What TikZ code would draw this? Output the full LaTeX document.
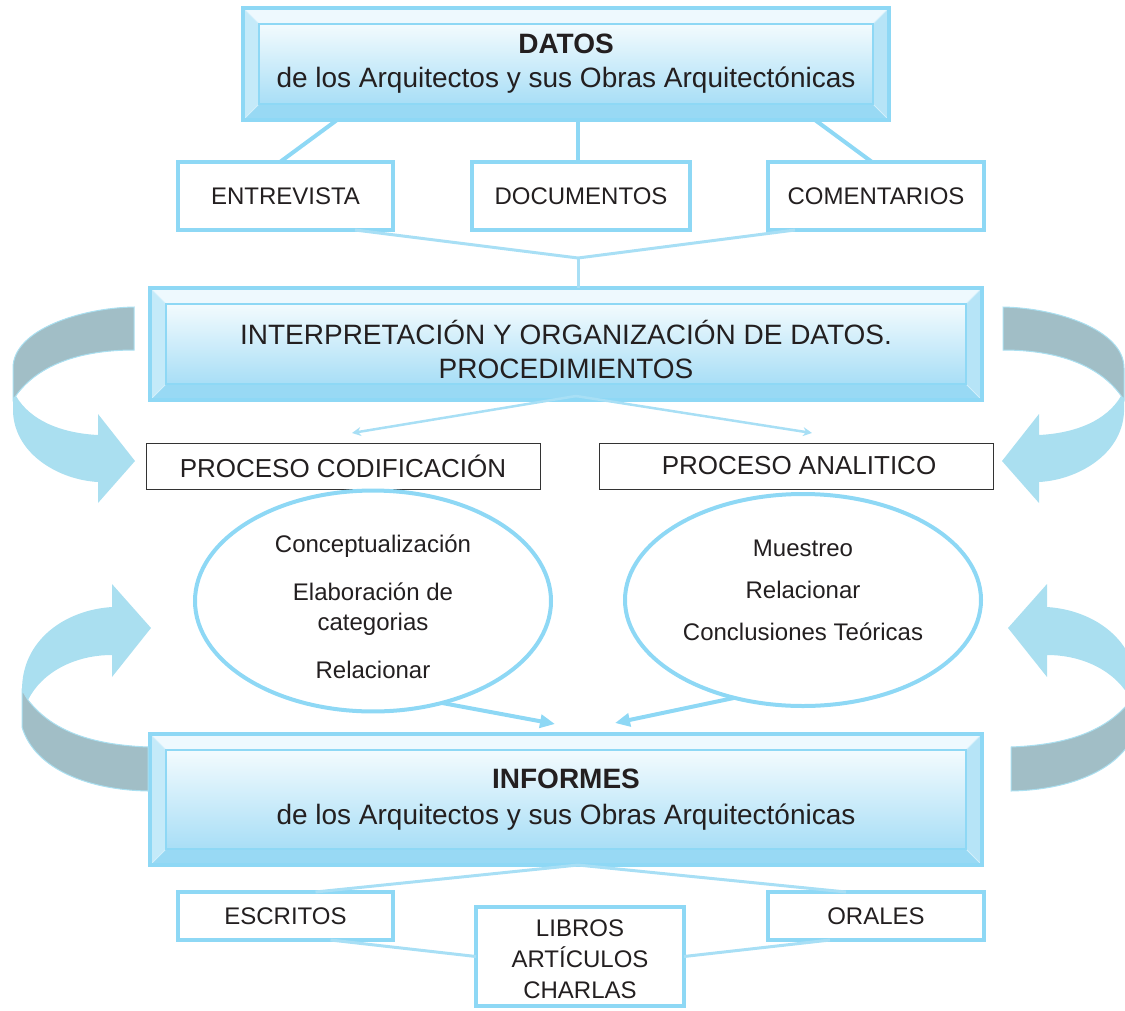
\documentclass[tikz,border=0pt]{standalone}
\usepackage{fontspec}
\setmainfont{Liberation Sans}
\usetikzlibrary{calc,arrows.meta,shapes.geometric,backgrounds}
\definecolor{bb}{HTML}{8ED8F5}
\definecolor{cl}{HTML}{A8DFF5}
\definecolor{topf}{HTML}{EEF9FE}
\definecolor{leftf}{HTML}{C4EAF9}
\definecolor{rightf}{HTML}{B6E4F7}
\definecolor{botf}{HTML}{98D9F4}
\definecolor{innt}{HTML}{F3FBFE}
\definecolor{innb}{HTML}{A8DEF6}
\definecolor{rgrey}{HTML}{A1BEC6}
\definecolor{rblue}{HTML}{AADFF0}
\definecolor{txt}{HTML}{231F20}

\newcommand{\bevelfaces}[1]{%
 \begin{scope}[on background layer]
 \coordinate (#1-a) at ($(#1.north west)+(16,16)$);
 \coordinate (#1-b) at ($(#1.north east)+(-16,16)$);
 \coordinate (#1-c) at ($(#1.south east)+(-16,-16)$);
 \coordinate (#1-d) at ($(#1.south west)+(16,-16)$);
 \fill[topf] (#1.north west) -- (#1.north east) -- (#1-b) -- (#1-a) -- cycle;
 \fill[rightf] (#1.north east) -- (#1.south east) -- (#1-c) -- (#1-b) -- cycle;
 \fill[botf] (#1.south east) -- (#1.south west) -- (#1-d) -- (#1-c) -- cycle;
 \fill[leftf] (#1.south west) -- (#1.north west) -- (#1-a) -- (#1-d) -- cycle;
 \draw[white!60!bb,line width=1pt] (#1.north west) -- (#1-a) (#1.north east) -- (#1-b) (#1.south east) -- (#1-c) (#1.south west) -- (#1-d);
 \shadedraw[top color=innt,bottom color=innb,draw=bb,line width=2.5pt] (#1-a) rectangle (#1-c);
 \draw[bb,line width=3.5pt] (#1.north west) rectangle (#1.south east);
 \end{scope}}

\newcommand{\ribtop}{%
 \filldraw[fill=rgrey,draw=rblue,line width=1pt] (134,307) .. controls (80,308) and (13,330) .. (13,368) -- (13,400) .. controls (35,365) and (80,350) .. (134,350) -- cycle;
 \fill[rblue] (13,398) -- (13,412) .. controls (15,455) and (60,480) .. (98,482) -- (98,503) -- (135,461) -- (98,414) -- (98,435) .. controls (60,433) and (30,420) .. (16,396) -- cycle;}

\newcommand{\ribbot}{%
 \fill[rblue] (22,690) .. controls (22,640) and (65,610) .. (112,607) -- (112,584) -- (151,628) -- (112,677) -- (112,655) .. controls (75,655) and (42,672) .. (28,700) -- cycle;
 \filldraw[fill=rgrey,draw=rblue,line width=1pt] (22,690) -- (28,700) .. controls (55,735) and (100,745) .. (148,747) -- (148,791) .. controls (90,790) and (35,770) .. (22,727) -- cycle;}

\tikzset{
 bevelbox/.style={rectangle, draw=none, outer sep=0pt, inner sep=0pt, align=center, text=txt, font=\fontsize{28}{34}\selectfont},
 labelbox/.style={rectangle, draw=bb, line width=4pt, fill=white, outer sep=0pt, text=txt, align=center, font=\fontsize{24}{31}\selectfont},
 procbox/.style={rectangle, draw=black!80, line width=0.8pt, outer sep=0pt, text=txt, font=\fontsize{26}{31}\selectfont},
 ellip/.style={ellipse, draw=bb, line width=4pt, outer sep=0pt, inner sep=0pt, align=center, text=txt, font=\fontsize{24}{29}\selectfont},
 link/.style={draw=bb, line width=4pt},
 thinlink/.style={draw=cl, line width=3pt},
 thinarrow/.style={draw=cl, line width=2.5pt, -{Stealth[length=9pt,width=9pt]}},
 bigarrow/.style={draw=bb, line width=4pt, -{Triangle[length=15pt,width=13pt]}}
}

\begin{document}
\begin{tikzpicture}[x=1pt,y=-1pt]
\useasboundingbox (0,0) rectangle (1125,1010);

% curved ribbon arrows
\ribtop
\begin{scope}[xshift=1137pt,xscale=-1]\ribtop\end{scope}
\ribbot
\begin{scope}[xshift=1159pt,xscale=-1]\ribbot\end{scope}

% DATOS
\node[bevelbox, minimum width=646pt, minimum height=112pt] (datos) at (566,64)
 {\textbf{DATOS}\\de los Arquitectos y sus Obras Arquitectónicas};
\bevelfaces{datos}

\node[labelbox, minimum width=215pt, minimum height=68pt] (entrevista) at (285.5,196) {ENTREVISTA};
\node[labelbox, minimum width=218pt, minimum height=68pt] (documentos) at (581,196) {DOCUMENTOS};
\node[labelbox, minimum width=216pt, minimum height=68pt] (comentarios) at (876,196) {COMENTARIOS};

\draw[link] ([xshift=-229pt]datos.south) -- ([xshift=-5.5pt]entrevista.north);
\draw[link] ([xshift=12pt]datos.south) -- ([xshift=-3pt]documentos.north);
\draw[link] ([xshift=249pt]datos.south) -- ([xshift=-4pt]comentarios.north);

% INTERPRETACION
\node[bevelbox, minimum width=832pt, minimum height=112pt] (interp) at (566,344) {};
\bevelfaces{interp}
\node[bevelbox] (interptext) at (566,349)
 {INTERPRETACIÓN Y ORGANIZACIÓN DE DATOS.\\PROCEDIMIENTOS};

\coordinate (j1) at (578,258);
\draw[thinlink] ([xshift=69.5pt]entrevista.south) -- (j1) -- ([xshift=-81pt]comentarios.south);
\draw[thinlink] (j1) -- (j1 |- interp.north);

% PROCESO boxes
\node[procbox, minimum width=394pt, minimum height=46pt] (codif) at (343,466) {PROCESO CODIFICACIÓN};
\node[procbox, minimum width=394pt, minimum height=46pt] (analit) at (796,466) {\hspace{6pt}PROCESO ANALITICO};

\coordinate (j2) at ([xshift=10pt,yshift=4pt]interp.south);
\draw[thinarrow] (j2) -- ([xshift=9pt,yshift=10pt]codif.north);
\draw[thinarrow] (j2) -- ([xshift=16pt,yshift=10pt]analit.north);

% ellipses
\node[ellip, minimum width=356pt, minimum height=212pt] (ellL) at (373,601)
 {\rule{0pt}{30pt}Conceptualización\\[19pt]Elaboración de\\[1pt]categorias\\[19pt]Relacionar};
\node[ellip, minimum width=356pt, minimum height=212pt] (ellR) at (803,600)
 {Muestreo\\[13pt]Relacionar\\[13pt]Conclusiones Teóricas\rule[-20pt]{0pt}{20pt}};

% INFORMES
\node[bevelbox, minimum width=832pt, minimum height=131pt] (informes) at (566,799.5)
 {\textbf{INFORMES}\\[2pt]de los Arquitectos y sus Obras Arquitectónicas};
\bevelfaces{informes}

\draw[bigarrow] (ellL.-56) -- ([xshift=-11pt,yshift=10pt]informes.north);
\draw[bigarrow] (ellR.-125) -- ([xshift=49pt,yshift=11pt]informes.north);

% bottom boxes
\node[labelbox, minimum width=215pt, minimum height=48pt] (escritos) at (285.5,916) {ESCRITOS};
\node[labelbox, minimum width=216pt, minimum height=48pt] (orales) at (876,916) {ORALES};
\node[labelbox, minimum width=208pt, minimum height=99pt] (libros) at (580,956.5) {\rule{0pt}{22pt}LIBROS\\ARTÍCULOS\\CHARLAS};

\coordinate (j3) at ([xshift=12pt]informes.south);
\draw[thinlink] ([xshift=30pt]escritos.north) -- (j3) -- ([xshift=-30pt]orales.north);
\draw[thinlink] ([xshift=45pt]escritos.south) -- (libros.west);
\draw[thinlink] ([xshift=-46pt]orales.south) -- (libros.east);
\end{tikzpicture}
\end{document}
